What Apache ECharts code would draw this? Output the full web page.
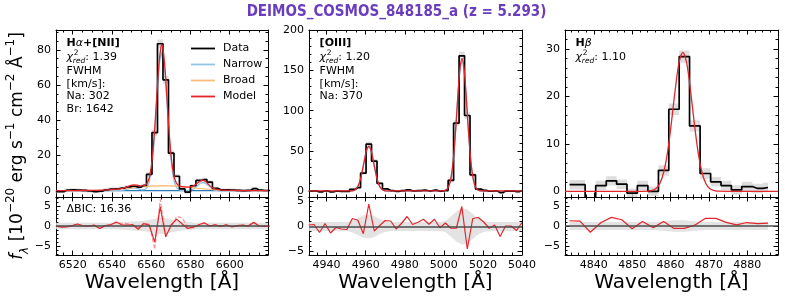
<!DOCTYPE html>
<html><head><meta charset="utf-8">
<script src="https://cdn.jsdelivr.net/npm/echarts@6/dist/echarts.min.js"></script>
<style>html,body{margin:0;padding:0;background:#fff}#c{width:793px;height:297px}</style>
</head><body><div id="c"></div>
<script>
// ---------------- DATA ----------------
// H-alpha + [NII]
const haWave = [6511.4,6514.2,6517.0,6519.8,6522.6,6525.4,6528.2,6531.0,6533.8,6536.6,6539.4,6542.2,6545.0,6547.8,6550.6,6553.4,6556.2,6559.0,6561.8,6564.6,6567.4,6570.2,6573.0,6575.8,6578.6,6581.4,6584.2,6587.0,6589.8,6592.6,6595.4,6598.2,6601.0,6603.8,6606.6,6609.4,6612.2,6615.0,6617.8,6620.6];
const haFlux = [-0.5,-0.6,0.3,0.5,0.3,0.2,-0.2,-0.6,-0.3,0.5,0.9,1.1,1.5,2.2,2.5,2.0,3.0,9.3,33.0,83.5,63.0,21.3,8.2,1.0,-0.8,2.8,5.8,6.3,4.8,1.3,0.5,0.4,0.3,0.2,0.0,0.2,1.2,0.3,0.1,0.1];
const haErr = [0.9,0.9,0.9,0.9,0.9,0.9,0.9,0.9,0.9,0.9,0.9,0.9,0.9,0.9,0.9,0.9,1.0,1.2,1.8,2.4,2.2,1.5,1.1,0.9,0.9,1.0,1.0,1.0,1.0,0.9,0.9,0.9,0.9,0.9,0.9,0.9,0.9,0.9,0.9,0.9];
const haRes = [0.0,-0.3,-0.2,0.1,0.5,0.0,0.0,0.2,-0.6,0.1,0.3,1.0,0.3,0.2,0.3,-0.8,0.6,0.2,-4.0,4.8,-2.7,0.3,1.7,0.5,-0.6,-0.3,0.3,0.8,0.0,0.3,-0.1,0.3,-0.2,0.1,0.2,0.0,0.9,0.0,-0.1,0.0];
const haResAlt = [0.0,-0.3,-0.2,0.1,0.5,0.0,0.0,0.2,-0.6,0.1,0.4,0.8,0.7,0.6,0.3,-0.5,0.8,0.4,-5.8,6.6,-2.2,-0.2,2.4,2.0,-0.2,-0.5,0.1,0.7,0.0,0.3,-0.1,0.3,-0.2,0.1,0.2,0.0,0.9,0.0,-0.1,0.0];
const haResBand = [0.8,0.8,0.8,0.8,0.8,0.8,0.8,0.8,0.8,0.8,0.8,0.8,0.9,1.0,1.1,1.2,1.3,1.5,1.8,2.0,1.9,1.6,1.3,1.1,1.0,0.9,0.8,0.8,0.8,0.8,0.8,0.8,0.8,0.8,0.8,0.8,0.8,0.8,0.8,0.8];
const haModelWave = [6511.5,6520,6530,6535,6540,6544,6547,6549,6551,6553,6555,6557,6558,6559,6560,6561,6562,6563,6564,6565,6565.4,6566,6567,6568,6569,6570,6571,6572,6573,6574,6575,6577,6579,6581,6583,6584,6585,6586,6587,6588,6589,6590,6592,6594,6597,6600,6605,6610,6619.5];
const haModel = [0.01,0.03,0.16,0.33,0.62,1.02,1.84,2.75,3.30,3.07,2.67,3.08,4.35,7.33,13.4,23.85,38.9,56.6,72.7,81.9,82.8,80.8,69.9,53.1,35.6,21.4,11.95,6.61,4.03,2.93,2.48,2.15,2.04,2.40,3.74,4.70,5.52,5.92,5.69,4.89,3.77,2.66,1.14,0.57,0.33,0.21,0.10,0.04,0.01];
const haNarrow = [0,0,0,0,0,0.07,0.59,1.28,1.60,1.15,0.53,0.74,1.92,4.82,10.8,21.2,36.2,53.9,69.9,79.1,80.0,78.0,67.1,50.3,32.9,18.7,9.3,4.03,1.52,0.5,0.14,0.01,0.12,0.70,2.27,3.34,4.27,4.77,4.64,3.94,2.91,1.88,0.52,0.08,0,0,0,0,0];
const haBroad = [0.01,0.03,0.16,0.33,0.62,0.95,1.25,1.47,1.70,1.92,2.14,2.34,2.43,2.51,2.58,2.65,2.70,2.74,2.77,2.79,2.80,2.80,2.79,2.77,2.74,2.70,2.65,2.58,2.51,2.43,2.34,2.14,1.92,1.70,1.47,1.36,1.25,1.15,1.05,0.95,0.86,0.78,0.62,0.49,0.33,0.21,0.10,0.04,0.01];
const haContWave = [6511.5,6619.5];
const haCont = [0,0];

// [OIII]
const oiiiWave = [4930.8,4933.6,4936.4,4939.2,4942.0,4944.8,4947.6,4950.4,4953.2,4956.0,4958.8,4961.6,4964.4,4967.2,4970.0,4972.8,4975.6,4978.4,4981.2,4984.0,4986.8,4989.6,4992.4,4995.2,4998.0,5000.8,5003.6,5006.4,5009.2,5012.0,5014.8,5017.6,5020.4,5023.2,5026.0,5028.8,5031.6,5034.4,5037.2,5040.0];
const oiiiFlux = [0.2,0.5,-0.6,0.7,-0.8,0.2,0.0,0.0,2.5,4.5,22.5,58.5,37.5,10.0,3.0,1.0,0.0,0.9,1.8,0.7,1.0,1.4,0.7,1.4,0.2,1.0,13.5,84.5,168.0,94.0,20.5,2.8,1.2,0.1,0.6,-1.6,0.4,0.4,-0.3,1.0];
const oiiiErr = [1,1,1,1,1,1,1,1,1,1,2.0,3.0,2.5,1.5,1,1,1,1,1,1,1,1,1,1,1,1,2.0,3.5,5.0,4.0,2.5,1.5,1,1,1,1,1,1,1,1];
const oiiiRes = [0.3,0.4,-1.2,0.6,-1.3,-0.2,-0.5,-0.6,1.6,1.25,-1.45,4.5,-0.9,0.2,1.2,1.1,-0.5,0.65,2.0,0.4,0.85,1.45,0.45,1.45,-0.25,0.7,-0.35,-0.35,4.0,-4.5,1.6,1.8,0.9,-0.35,0.3,-2.0,0.1,0.1,-0.8,0.8];
const oiiiResBand = [0.9,0.9,0.9,0.9,0.9,0.9,0.9,0.9,1.2,1.7,2.2,2.4,2.1,1.5,1.1,0.9,0.9,0.9,0.9,0.9,0.9,0.9,0.9,0.9,0.9,1.1,2.0,3.0,3.6,3.4,2.5,1.6,1.1,0.9,0.9,0.9,0.9,0.9,0.9,0.9];
const oiiiModelWave = [4931,4940,4950.6,4951.6,4952.6,4953.6,4954.6,4955.6,4956.6,4957.6,4958.6,4959.6,4960.6,4961.6,4962.6,4963.6,4964.6,4965.6,4966.6,4967.6,4968.6,4969.6,4970.6,4971.6,4972.6,4985,4998.3,4999.3,5000.3,5001.3,5002.3,5003.3,5004.3,5005.3,5006.3,5007.3,5008.3,5009.3,5010.3,5011.3,5012.3,5013.3,5014.3,5015.3,5016.3,5017.3,5018.3,5019.3,5020.3,5040];
const oiiiModel = [0.5,0.5,0.5,0.54,0.65,1.02,2.05,4.5,9.4,17.8,29.3,41.9,52.1,56.0,52.1,41.9,29.3,17.8,9.4,4.5,2.05,1.02,0.65,0.54,0.5,0.5,0.5,0.61,0.94,2.04,5.1,12.3,26.9,51.5,85.5,123.0,153.0,164.5,153.0,123.0,85.5,51.5,26.9,12.3,5.1,2.04,0.94,0.61,0.5,0.5];
const oiiiNarrow = [0,0,0,0.04,0.15,0.52,1.55,4.0,8.9,17.3,28.8,41.4,51.6,55.5,51.6,41.4,28.8,17.3,8.9,4.0,1.55,0.52,0.15,0.04,0,0,0,0.11,0.44,1.54,4.6,11.8,26.4,51.0,85.0,122.5,152.5,164.0,152.5,122.5,85.0,51.0,26.4,11.8,4.6,1.54,0.44,0.11,0,0];

// H-beta
const hbWave = [4833.7,4836.4,4839.1,4841.9,4844.6,4847.3,4850.0,4852.7,4855.5,4858.2,4860.9,4863.6,4866.3,4869.1,4871.8,4874.5,4877.2,4879.9,4882.7,4885.4];
const hbFlux = [1.4,1.4,-2.3,1.2,2.2,1.5,-0.4,1.2,0.0,4.4,17.3,28.4,13.8,3.75,2.0,1.2,0.3,1.0,0.6,0.8];
const hbErr = [1.0,1.0,1.0,1.0,1.0,1.0,1.0,1.0,1.0,1.1,1.2,1.3,1.2,1.1,1.0,1.0,1.0,1.0,1.0,1.0];
const hbRes = [1.3,1.2,-1.55,0.86,2.15,1.55,-0.7,1.1,-0.4,1.1,-0.6,-0.6,0.2,1.9,1.9,0.9,0.3,0.86,0.6,0.7];
const hbResBand = [1.0,1.0,1.0,1.0,1.0,1.0,1.0,1.0,1.0,1.2,1.4,1.4,1.2,1.0,1.0,1.0,1.0,1.0,1.0,1.0];
const hbModelWave = [4832.5,4850,4854.2,4855.2,4856.2,4857.2,4858.2,4859.2,4860.2,4861.2,4862.2,4863.2,4864.2,4865.2,4866.2,4867.2,4868.2,4869.2,4870.2,4871.2,4872.2,4880,4888];
const hbModel = [0,0,0.045,0.175,0.58,1.65,3.97,8.15,14.3,21.3,27.05,29.3,27.05,21.3,14.3,8.15,3.97,1.65,0.58,0.175,0.045,0,0];

// tick labels
const haXTicks = [6520,6540,6560,6580,6600];
const oiiiXTicks = [4940,4960,4980,5000,5020,5040];
const hbXTicks = [4840,4850,4860,4870,4880];
const haYTicks = [0,20,40,60,80];
const oiiiYTicks = [0,50,100,150,200];
const hbYTicks = [0,10,20,30];
const resYTicks = [-5,0,5];

// texts
const titleText = 'DEIMOS_COSMOS_848185_a (z = 5.293)';
const chiVals = ['1.39','1.20','1.10'];
const bicText = 'ΔBIC: 16.36';

// ---------------- LAYOUT ----------------
const FONT = "'DejaVu Sans', sans-serif";
const TOP = 30, MID = 197, BOT = 255;
const panels = [
  {left:56, width:212, xmin:6511.5, xmax:6619.5, ymin:-3.6, ymax:91.3, rmin:-7.2, rmax:7.2,
   xt:haXTicks, xminor:5, yt:haYTicks, yminor:5, rminor:1},
  {left:309, width:213, xmin:4931, xmax:5040, ymin:-7, ymax:200, rmin:-5.7, rmax:5.9,
   xt:oiiiXTicks, xminor:5, yt:oiiiYTicks, yminor:10, rminor:1},
  {left:565, width:213, xmin:4832.5, xmax:4888, ymin:-1.2, ymax:34, rmin:-7.2, rmax:7.2,
   xt:hbXTicks, xminor:2, yt:hbYTicks, yminor:2, rminor:1}
];

function minorVals(min, max, step, majors) {
  const out = [];
  const s = Math.ceil(min / step - 1e-9);
  for (let k = s; k * step <= max + 1e-9; k++) {
    const v = +(k * step).toFixed(6);
    if (majors.indexOf(v) < 0) out.push(v);
  }
  return out;
}
const fmt = v => (v < 0 ? '\u2212' + (-v) : '' + v);

const grids = [], xAxes = [], yAxes = [];
function addGrid(left, top, width, height) {
  grids.push({left, top, width, height, containLabel:false, outerBoundsMode:'none'});
  return grids.length - 1;
}
function axisObj(kind, gi, pos, min, max, ticks, len, line, labels) {
  const o = {
    type:'value', gridIndex:gi, position:pos, min, max, scale:true,
    axisLine:{show:line, onZero:false, lineStyle:{color:'#000', width:1}},
    axisTick:{show:true, inside:true, length:len, customValues:ticks, lineStyle:{color:'#000', width:1}},
    axisLabel:{show:labels, customValues:ticks, formatter:fmt, fontSize:11, fontFamily:FONT, color:'#000', margin:5},
    splitLine:{show:false}, minorTick:{show:false}
  };
  (kind === 'x' ? xAxes : yAxes).push(o);
  return (kind === 'x' ? xAxes : yAxes).length - 1;
}
function addRegion(p, top, height, ymin, ymax, yt, yminorStep, xLabels) {
  const gMaj = addGrid(p.left, top, p.width, height);
  const gMin = addGrid(p.left, top, p.width, height);
  const xi = axisObj('x', gMaj, 'bottom', p.xmin, p.xmax, p.xt, 4.5, true, xLabels);
  axisObj('x', gMaj, 'top', p.xmin, p.xmax, p.xt, 4.5, true, false);
  const yi = axisObj('y', gMaj, 'left', ymin, ymax, yt, 4.5, true, true);
  axisObj('y', gMaj, 'right', ymin, ymax, yt, 4.5, true, false);
  const xm = minorVals(p.xmin, p.xmax, p.xminor, p.xt);
  const ym = minorVals(ymin, ymax, yminorStep, yt);
  axisObj('x', gMin, 'bottom', p.xmin, p.xmax, xm, 2.5, false, false);
  axisObj('x', gMin, 'top', p.xmin, p.xmax, xm, 2.5, false, false);
  axisObj('y', gMin, 'left', ymin, ymax, ym, 2.5, false, false);
  axisObj('y', gMin, 'right', ymin, ymax, ym, 2.5, false, false);
  return {xi, yi};
}

const zip = (a, b) => a.map((v, i) => [v, b[i]]);
function stepBandPoly(xs, ys, es) {
  const up = [], lo = [];
  for (let i = 0; i < xs.length; i++) {
    const l = i === 0 ? xs[0] : (xs[i - 1] + xs[i]) / 2;
    const r = i === xs.length - 1 ? xs[i] : (xs[i] + xs[i + 1]) / 2;
    up.push([l, ys[i] + es[i]], [r, ys[i] + es[i]]);
    lo.push([l, ys[i] - es[i]], [r, ys[i] - es[i]]);
  }
  return up.concat(lo.reverse());
}
function linBandPoly(xs, bs) {
  const up = xs.map((x, i) => [x, bs[i]]);
  const lo = xs.map((x, i) => [x, -bs[i]]).reverse();
  return up.concat(lo);
}
function bandSeries(ax, poly, color, opacity) {
  return {
    type:'custom', xAxisIndex:ax.xi, yAxisIndex:ax.yi, z:1, silent:true, clip:true,
    data:[poly[0]],
    renderItem:function (params, api) {
      const cs = params.coordSys;
      return {type:'polygon', shape:{points:poly.map(p => api.coord(p))},
        style:{fill:color, opacity:opacity},
        clipPath:{type:'rect', shape:{x:cs.x, y:cs.y, width:cs.width, height:cs.height}}};
    }
  };
}
function lineSeries(ax, name, data, color, width, opts) {
  return Object.assign({
    type:'line', name, xAxisIndex:ax.xi, yAxisIndex:ax.yi, data, showSymbol:false, symbol:'none',
    color, lineStyle:{color, width}, itemStyle:{color}, clip:true, silent:true, z:3
  }, opts || {});
}
const zeroLine = {silent:true, symbol:['none','none'], label:{show:false}, animation:false,
  lineStyle:{color:'#4d4d4d', width:1.6, type:'solid'}, data:[{yAxis:0}]};

const RED = '#e3262b', NARROW = '#93c4e6', BROAD = '#fdbb7a', CONT = '#2a78b5';
const series = [];

const specs = [
  {wave:haWave, flux:haFlux, err:haErr, res:haRes, resAlt:haResAlt, band:haResBand,
   mw:haModelWave, model:haModel, narrow:haNarrow, broad:haBroad},
  {wave:oiiiWave, flux:oiiiFlux, err:oiiiErr, res:oiiiRes, band:oiiiResBand,
   mw:oiiiModelWave, model:oiiiModel, narrow:oiiiNarrow},
  {wave:hbWave, flux:hbFlux, err:hbErr, res:hbRes, band:hbResBand,
   mw:hbModelWave, model:hbModel}
];

panels.forEach((p, k) => {
  const s = specs[k];
  const axT = addRegion(p, TOP, MID - TOP, p.ymin, p.ymax, p.yt, p.yminor, false);
  const axR = addRegion(p, MID, BOT - MID, p.rmin, p.rmax, resYTicks, p.rminor, true);
  // top panel
  series.push(bandSeries(axT, stepBandPoly(s.wave, s.flux, s.err), '#d6d6d6', 0.8));
  if (k === 0) series.push(lineSeries(axT, 'Cont', zip(haContWave, haCont), CONT, 1.3, {z:2}));
  if (s.narrow) series.push(lineSeries(axT, 'Narrow', zip(s.mw, s.narrow), NARROW, 1.3, {z:2}));
  if (s.broad) series.push(lineSeries(axT, 'Broad', zip(s.mw, s.broad), BROAD, 1.3, {z:2}));
  series.push(lineSeries(axT, 'Data', zip(s.wave, s.flux), '#000', 1.7, {step:'middle', z:3}));
  series.push(lineSeries(axT, 'Model', zip(s.mw, s.model), RED, 1.3, {smooth:0.3, z:4}));
  // residual panel
  series.push(bandSeries(axR, linBandPoly(s.wave, s.band), '#dedede', 0.85));
  if (s.resAlt) series.push(lineSeries(axR, 'ResAlt', zip(s.wave, s.resAlt), '#f08080', 1.0,
    {z:3, lineStyle:{color:'#f08a8a', width:1.1, type:[4, 2], opacity:0.9}}));
  series.push(lineSeries(axR, 'Residual', zip(s.wave, s.res), RED, 1.2, {z:4, markLine:zeroLine}));
});

// ---------------- TEXT ----------------
const graphics = [];
function txt(x, y, text, o) {
  graphics.push({type:'text', x, y, silent:true, z:100, style:Object.assign({
    text, fontSize:11, fontFamily:FONT, fill:'#000', align:'left', verticalAlign:'middle',
    textAlign:'left', textVerticalAlign:'middle'}, o || {})});
}
function chi(x, y, val) {
  txt(x, y, 'χ', {fontStyle:'italic'});
  txt(x + 7.2, y - 4.8, '2', {fontSize:7.5});
  txt(x + 6.2, y + 3.6, 'red', {fontSize:7.5, fontStyle:'italic'});
  txt(x + 18.6, y, ': ' + val);
}
// title
txt(396.5, 12, titleText, {fontSize:15, fontWeight:'bold', fill:'#6a3dbf', align:'center', textAlign:'center',
  fontFamily:"'DejaVu Sans Condensed', 'DejaVu Sans', sans-serif"});
// x labels
panels.forEach(p => txt(p.left + p.width / 2, 283, 'Wavelength [Å]', {fontSize:20, align:'center', textAlign:'center'}));
// y label
graphics.push({type:'text', x:18, y:146, rotation:Math.PI / 2, silent:true, z:100, style:{
  text:'{i|f}{sub|λ}{n| [10}{sup|−20}{n| erg s}{sup|−1}{n| cm}{sup|−2}{n| Å}{sup|−1}{n|]}',
  align:'center', verticalAlign:'middle', textAlign:'center', textVerticalAlign:'middle',
  fontSize:17, fontFamily:FONT, fill:'#000',
  rich:{
    n:{fontSize:17, fontFamily:FONT, lineHeight:26, verticalAlign:'middle'},
    i:{fontSize:17, fontFamily:FONT, fontStyle:'italic', lineHeight:26, verticalAlign:'middle'},
    sup:{fontSize:12, fontFamily:FONT, lineHeight:13, verticalAlign:'top'},
    sub:{fontSize:12, fontFamily:FONT, fontStyle:'italic', lineHeight:12, verticalAlign:'bottom'}
  }}});
// panel annotations
const ox = [panels[0].left + 10.6, panels[1].left + 10.6, panels[2].left + 10.6];
function rich(x, y, text) {
  graphics.push({type:'text', x, y, silent:true, z:100, style:{text, fontSize:11, fontFamily:FONT, fill:'#000',
    align:'left', verticalAlign:'middle', textAlign:'left', textVerticalAlign:'middle',
    rich:{b:{fontSize:11, fontWeight:'bold', fontFamily:FONT}, a:{fontSize:11, fontStyle:'italic', fontFamily:FONT}}}});
}
rich(ox[0], 43, '{b|H}{a|α}{b|+[NII]}');
chi(ox[0], 57.5, chiVals[0]);
txt(ox[0], 71.5, 'FWHM'); txt(ox[0], 84, '[km/s]:'); txt(ox[0], 96.5, 'Na: 302'); txt(ox[0], 109, 'Br: 1642');
rich(ox[1], 43, '{b|[OIII]}');
chi(ox[1], 57.5, chiVals[1]);
txt(ox[1], 71.5, 'FWHM'); txt(ox[1], 84, '[km/s]:'); txt(ox[1], 96.5, 'Na: 370');
rich(ox[2], 43, '{b|H}{a|β}');
chi(ox[2], 57.5, chiVals[2]);
txt(ox[0], 209.5, bicText);

const chart = echarts.init(document.getElementById('c'), null, {renderer:'canvas'});
chart.setOption({
  animation:false,
  backgroundColor:'#fff',
  grid:grids, xAxis:xAxes, yAxis:yAxes, series,
  legend:{data:['Data','Narrow','Broad','Model'], orient:'vertical', left:186, top:37,
    itemWidth:24, itemHeight:1.8, itemGap:3, icon:'rect', selectedMode:false,
    textStyle:{fontSize:11, fontFamily:FONT, color:'#000', lineHeight:13, padding:[0,0,0,3]}},
  graphic:graphics
});
</script></body></html>
